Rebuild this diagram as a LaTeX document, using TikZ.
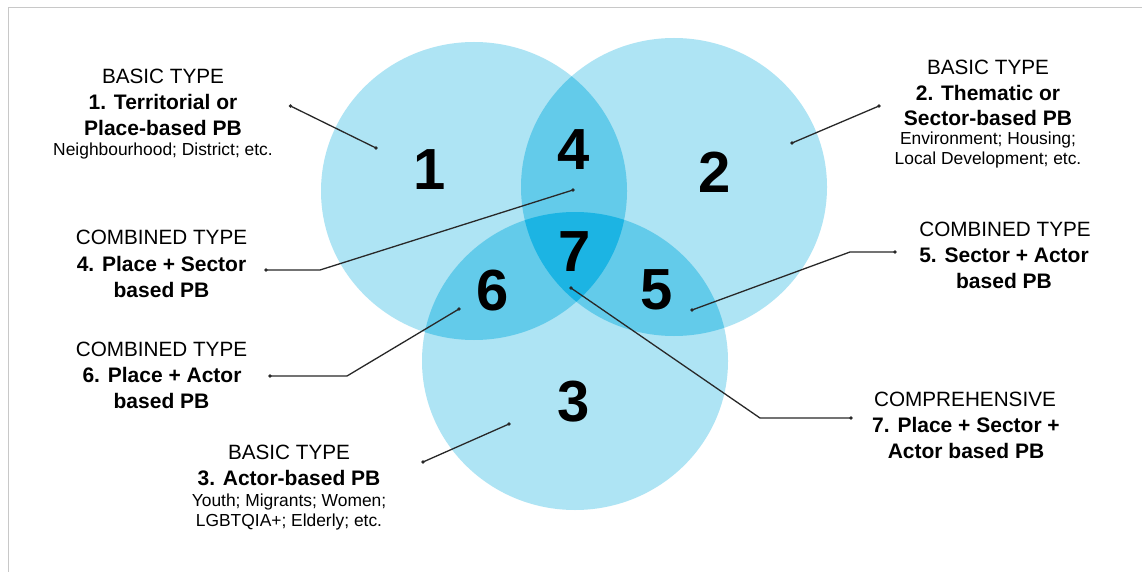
\documentclass[tikz,border=0pt]{standalone}
\usepackage{fontspec}
\setmainfont{Liberation Sans}
\definecolor{cone}{RGB}{174,228,244}
\definecolor{ctwo}{RGB}{99,203,234}
\definecolor{cthree}{RGB}{28,180,227}
\definecolor{leadc}{RGB}{40,40,40}
\definecolor{framec}{RGB}{200,200,200}
\begin{document}
\begin{tikzpicture}[x=1pt,y=-1pt,
  hd/.style={anchor=base,inner sep=0pt,font=\fontsize{20.7}{24}\selectfont},
  bd/.style={anchor=base,inner sep=0pt,font=\fontsize{21}{24}\selectfont\bfseries},
  sm/.style={anchor=base,inner sep=0pt,font=\fontsize{17.4}{20}\selectfont},
  num/.style={inner sep=0pt,font=\fontsize{58}{60}\selectfont\bfseries},
  leader/.style={draw=leadc,line width=1.3pt},
  dotc/.style={circle,fill=leadc,inner sep=0pt,minimum size=3.8pt}]
\useasboundingbox (0,0) rectangle (1142,572);
\fill[white] (0,0) rectangle (1142,572);
\draw[framec,line width=1.5pt] (1142,7.5) -- (8.5,7.5) -- (8.5,572);
% circles
\fill[cone] (474,191) ellipse [x radius=153pt,y radius=149pt];
\fill[cone] (674,187) ellipse [x radius=153pt,y radius=149pt];
\fill[cone] (575,361) ellipse [x radius=153pt,y radius=149pt];
\begin{scope}
  \clip (474,191) ellipse [x radius=153pt,y radius=149pt];
  \fill[ctwo] (674,187) ellipse [x radius=153pt,y radius=149pt];
  \fill[ctwo] (575,361) ellipse [x radius=153pt,y radius=149pt];
\end{scope}
\begin{scope}
  \clip (674,187) ellipse [x radius=153pt,y radius=149pt];
  \fill[ctwo] (575,361) ellipse [x radius=153pt,y radius=149pt];
\end{scope}
\begin{scope}
  \clip (474,191) ellipse [x radius=153pt,y radius=149pt];
  \clip (674,187) ellipse [x radius=153pt,y radius=149pt];
  \fill[cthree] (575,361) ellipse [x radius=153pt,y radius=149pt];
\end{scope}
% numbers
\node[num] (n1) at (430,170) {1};
\node[num] (n2) at (715,172) {2};
\node[num] (n4) at (574,150) {4};
\node[num] (n7) at (575,252) {7};
\node[num] (n6) at (493,291) {6};
\node[num] (n5) at (657,290) {5};
\node[num] (n3) at (574,402) {3};
% dots
\node[dotc] (d1a) at (290.5,106) {};
\node[dotc] (d1b) at (376,148) {};
\node[dotc] (d2a) at (879,106) {};
\node[dotc] (d2b) at (792,143) {};
\node[dotc] (d4a) at (266,270) {};
\node[dotc] (d4b) at (573,190) {};
\node[dotc] (d6a) at (270,376) {};
\node[dotc] (d6b) at (459,309) {};
\node[dotc] (d5a) at (895,252) {};
\node[dotc] (d5b) at (692,310) {};
\node[dotc] (d7a) at (851,418) {};
\node[dotc] (d7b) at (571,288) {};
\node[dotc] (d3a) at (423,462) {};
\node[dotc] (d3b) at (509,424) {};
\coordinate (k4) at (320,270);
\coordinate (k6) at (347,376);
\coordinate (k5) at (850,252);
\coordinate (k7) at (760,418);
% leaders
\draw[leader] (d1a.center) -- (d1b.center);
\draw[leader] (d2a.center) -- (d2b.center);
\draw[leader] (d4a.center) -- (k4) -- (d4b.center);
\draw[leader] (d6a.center) -- (k6) -- (d6b.center);
\draw[leader] (d5a.center) -- (k5) -- (d5b.center);
\draw[leader] (d7a.center) -- (k7) -- (d7b.center);
\draw[leader] (d3a.center) -- (d3b.center);
% label 1
\node[hd] (t1a) at (163,84) {BASIC TYPE};
\node[bd] (t1b) at (163,110) {1. Territorial or};
\node[bd] (t1c) at (163,136) {Place-based PB};
\node[sm] (t1d) at (163,156) {Neighbourhood; District; etc.};
% label 2
\node[hd] (t2a) at (988,75) {BASIC TYPE};
\node[bd] (t2b) at (988,101) {2. Thematic or};
\node[bd] (t2c) at (988,126) {Sector-based PB};
\node[sm] (t2d) at (988,145) {Environment; Housing;};
\node[sm] (t2e) at (988,165) {Local Development; etc.};
% label 4
\node[hd] (t4a) at (161.5,244) {COMBINED TYPE};
\node[bd] (t4b) at (161.5,271) {4. Place + Sector};
\node[bd] (t4c) at (161.5,297) {based PB};
% label 6
\node[hd] (t6a) at (161.5,356) {COMBINED TYPE};
\node[bd] (t6b) at (162,382) {6. Place + Actor};
\node[bd] (t6c) at (161.5,408) {based PB};
% label 5
\node[hd] (t5a) at (1005,236) {COMBINED TYPE};
\node[bd] (t5b) at (1004,262) {5. Sector + Actor};
\node[bd] (t5c) at (1004,288) {based PB};
% label 7
\node[hd] (t7a) at (965,406) {COMPREHENSIVE};
\node[bd] (t7b) at (966,432) {7. Place + Sector +};
\node[bd] (t7c) at (966,458) {Actor based PB};
% label 3
\node[hd] (t3a) at (289,459) {BASIC TYPE};
\node[bd] (t3b) at (289,485) {3. Actor-based PB};
\node[sm] (t3c) at (289,506) {Youth; Migrants; Women;};
\node[sm] (t3d) at (289,526) {LGBTQIA+; Elderly; etc.};
\end{tikzpicture}
\end{document}
